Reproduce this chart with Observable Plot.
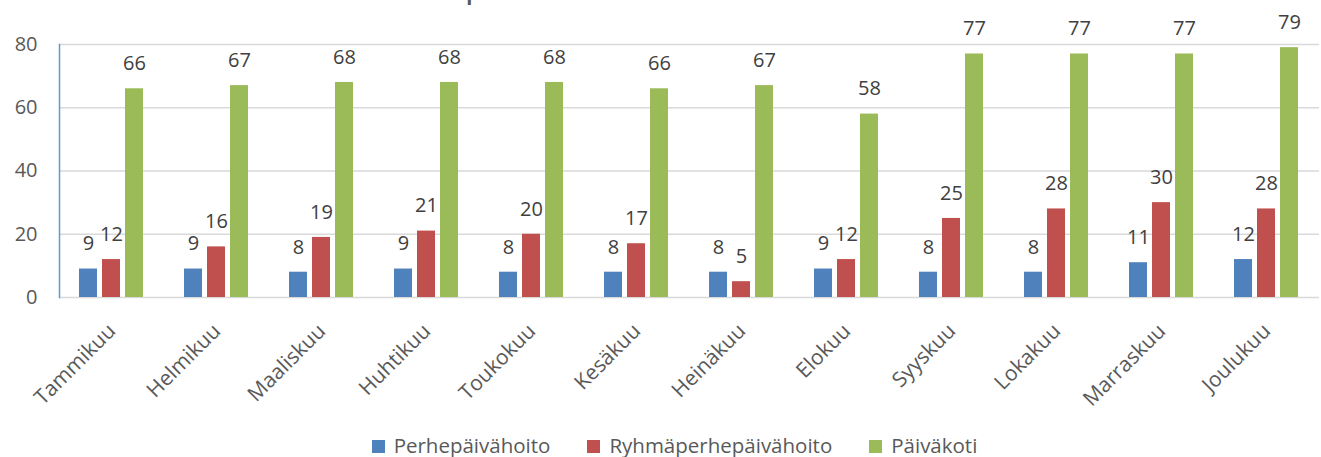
<!DOCTYPE html>
<html>
<head>
<meta charset="utf-8">
<script src="https://cdn.jsdelivr.net/npm/d3@7"></script>
<script src="https://cdn.jsdelivr.net/npm/@observablehq/plot@0.6"></script>
<style>
  html, body { margin: 0; padding: 0; background: #fff; }
  #wrap { position: relative; width: 1321px; height: 457px; overflow: hidden; font-family: "Open Sans", sans-serif; }
  #title { position: absolute; top: -17px; left: 0; width: 1321px; text-align: center; font-size: 20px; line-height: 20px; font-weight: bold; color: #595959; z-index: 2; }
  #chart { position: absolute; top: 0; left: 0; }
  #legend { position: absolute; top: 432px; left: 14px; width: 1321px; box-sizing: border-box; display: flex; justify-content: center; gap: 37px; font-size: 20.5px; line-height: 26px; color: #595959; }
  .item { display: flex; align-items: center; }
  .sw { width: 13px; height: 13px; margin-right: 9px; margin-top: 2px; }
</style>
</head>
<body>
<div id="wrap">
  <div id="chart"></div>
  <div id="title">Lapsia varhaiskasvatuksessa kuukausittain</div>
  <div id="legend"></div>
</div>
<script>
const months = ["Tammikuu","Helmikuu","Maaliskuu","Huhtikuu","Toukokuu","Kesäkuu","Heinäkuu","Elokuu","Syyskuu","Lokakuu","Marraskuu","Joulukuu"];
const series = ["Perhepäivähoito","Ryhmäperhepäivähoito","Päiväkoti"];
const perhepaivahoito = [9,9,8,9,8,8,8,9,8,8,11,12];
const ryhmaperhepaivahoito = [12,16,19,21,20,17,5,12,25,28,30,28];
const paivakoti = [66,67,68,68,68,66,67,58,77,77,77,79];
const colors = ["#4f81bd","#c0504d","#9bbb59"];
const yTicks = [0,20,40,60,80];

const values = [perhepaivahoito, ryhmaperhepaivahoito, paivakoti];
const data = months.flatMap((m, i) => series.map((s, j) => ({month: m, series: s, value: values[j][i]})));

const chart = Plot.plot({
  width: 1321,
  height: 433,
  marginLeft: 57,
  marginRight: 1,
  marginTop: 44,
  marginBottom: 136,
  style: {fontFamily: "'Open Sans', sans-serif", fontSize: "20px", background: "#fff", overflow: "visible"},
  fx: {domain: months, padding: 0, label: null},
  x: {domain: series, paddingInner: 0.21, paddingOuter: 0.85, axis: null},
  y: {domain: [0, 80], label: null},
  color: {domain: series, range: colors},
  marks: [
    Plot.gridY(yTicks, {stroke: "#d9d9d9", strokeOpacity: 1, strokeWidth: 1.3}),
    Plot.barY(data, {fx: "month", x: "series", y: "value", fill: "series"}),
    Plot.text(data, {fx: "month", x: "series", y: "value", text: d => String(d.value), dy: -25, fill: "#404040", fontSize: 20}),
    Plot.frame({anchor: "left", stroke: "#5b9bd5", strokeWidth: 1.5, fx: "Tammikuu"}),
    Plot.axisY(yTicks, {tickSize: 0, tickPadding: 22, fill: "#595959", fontSize: 20, label: null}),
    Plot.axisFx({anchor: "bottom", tickRotate: -45, tickSize: 0, tickPadding: 30, fill: "#595959", fontSize: 21, label: null})
  ]
});
document.getElementById("chart").appendChild(chart);

const legend = document.getElementById("legend");
series.forEach((s, i) => {
  const item = document.createElement("div");
  item.className = "item";
  const sw = document.createElement("span");
  sw.className = "sw";
  sw.style.background = colors[i];
  item.appendChild(sw);
  const t = document.createElement("span");
  t.textContent = s;
  item.appendChild(t);
  legend.appendChild(item);
});
</script>
</body>
</html>
